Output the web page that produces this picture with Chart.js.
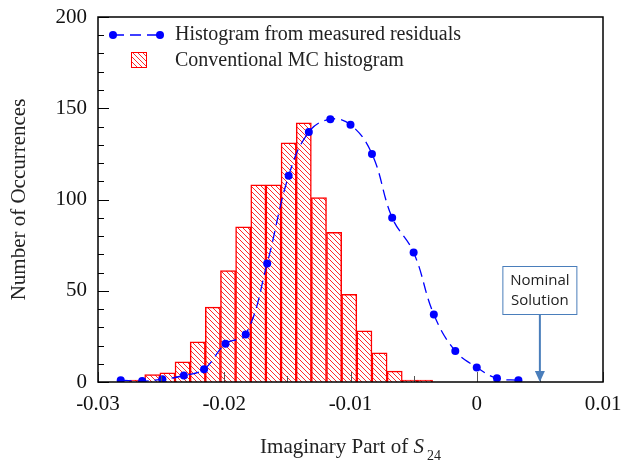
<!DOCTYPE html>
<html>
<head>
<meta charset="utf-8">
<script src="https://cdn.jsdelivr.net/npm/chart.js@4.4.0/dist/chart.umd.min.js"></script>
<style>
  html, body { margin: 0; padding: 0; background: #fff; }
  #wrap { width: 621px; height: 464px; position: relative; }
</style>
</head>
<body>
<div id="wrap"><canvas id="chart"></canvas></div>
<script>
// conventional MC histogram (bin centres, counts)
const mcBinCenters = [-0.0269, -0.0257, -0.0245, -0.0233, -0.0221, -0.0209, -0.0197, -0.0185, -0.0173, -0.0161,
                      -0.0149, -0.0137, -0.0125, -0.0113, -0.0101, -0.0089, -0.0077, -0.0065, -0.0053, -0.0041];
const mcCounts = [1, 4, 5, 11, 22, 41, 61, 85, 108, 108, 131, 142, 101, 82, 48, 28, 16, 6, 1, 1];

// histogram from measured residuals
const residualX = [-0.0282, -0.0265, -0.0249, -0.0232, -0.0216, -0.0199, -0.0183, -0.0166, -0.0149, -0.0133,
                   -0.0116, -0.0100, -0.0083, -0.0067, -0.0050, -0.0034, -0.0017, 0.0000, 0.0016, 0.0033];
const residualCounts = [1, 0.5, 1.5, 3.5, 7, 21, 26, 65, 113, 137, 144, 141, 125, 90, 71, 37, 17, 8, 2, 1];

const xTicks = [-0.03, -0.02, -0.01, 0, 0.01];
const yTicks = [0, 50, 100, 150, 200];
const nominalX = 0.005;

const labels = ["Histogram from measured residuals", "Conventional MC histogram"];

const SERIF = '"Liberation Serif", "DejaVu Serif", serif';
const BLUE = "#0000ff";
const RED = "#ff0000";
const ARROW = "#4a7ebb";

function hatch() {
  const s = 5;
  const c = document.createElement("canvas");
  c.width = s; c.height = s;
  const g = c.getContext("2d");
  g.fillStyle = "#fff";
  g.fillRect(0, 0, s, s);
  g.strokeStyle = "#ff2a2a";
  g.lineWidth = 1;
  g.beginPath();
  g.moveTo(-1, -1); g.lineTo(s + 1, s + 1);
  g.moveTo(-1, s - 1); g.lineTo(1, s + 1);
  g.moveTo(s - 1, -1); g.lineTo(s + 1, 1);
  g.stroke();
  return g.createPattern(c, "repeat");
}
const hatchFill = hatch();

const mcData = mcBinCenters.map((x, i) => ({ x: x, y: mcCounts[i] }));
const resData = residualX.map((x, i) => ({ x: x, y: residualCounts[i] }));

// keep label overflow from pushing the plot area around
function noPad(s) {
  s.paddingTop = 0; s.paddingBottom = 0; s.paddingLeft = 0; s.paddingRight = 0;
}

/* frame, inner ticks, legend, annotation, axis title */
const extras = {
  id: "extras",
  afterDatasetsDraw(chart) {
    const { ctx, chartArea: a, scales: { x, y } } = chart;
    ctx.save();

    // ticks inside the frame
    ctx.strokeStyle = "#555";
    ctx.lineWidth = 1;
    ctx.beginPath();
    for (let v = -0.03; v <= 0.0101; v += 0.005) {
      const px = Math.round(x.getPixelForValue(v)) + 0.5;
      const major = Math.abs(v * 100 - Math.round(v * 100)) < 1e-6;
      ctx.moveTo(px, a.bottom);
      ctx.lineTo(px, a.bottom - (major ? 10 : 6));
    }
    ctx.stroke();
    ctx.strokeStyle = "#000";
    ctx.beginPath();
    for (let v = 0; v <= 200; v += 10) {
      const py = Math.round(y.getPixelForValue(v)) + 0.5;
      ctx.moveTo(a.left, py);
      ctx.lineTo(a.left + (v % 50 === 0 ? 11 : 6), py);
    }
    ctx.stroke();

    // frame
    ctx.lineWidth = 1.5;
    ctx.strokeStyle = "#000";
    ctx.strokeRect(a.left, a.top, a.right - a.left, a.bottom - a.top);

    // legend
    const lx = a.left + 15, ly = a.top + 18;
    ctx.strokeStyle = BLUE;
    ctx.lineWidth = 1.3;
    ctx.setLineDash([11, 6]);
    ctx.beginPath();
    ctx.moveTo(lx, ly); ctx.lineTo(lx + 47, ly);
    ctx.stroke();
    ctx.setLineDash([]);
    ctx.fillStyle = BLUE;
    [lx, lx + 47].forEach(px => {
      ctx.beginPath(); ctx.arc(px, ly, 4, 0, Math.PI * 2); ctx.fill();
    });
    ctx.fillStyle = hatchFill;
    ctx.fillRect(lx + 18, ly + 17, 16, 16);
    ctx.strokeStyle = RED;
    ctx.lineWidth = 1;
    ctx.strokeRect(lx + 18.5, ly + 17.5, 15, 15);

    ctx.fillStyle = "#222";
    ctx.font = "20px " + SERIF;
    ctx.textBaseline = "middle";
    ctx.textAlign = "left";
    ctx.fillText(labels[0], lx + 62, ly);
    ctx.fillText(labels[1], lx + 62, ly + 26);

    // nominal solution annotation
    const nx = x.getPixelForValue(nominalX);
    const bw = 75, bh = 49, bTop = a.bottom - 116;
    ctx.strokeStyle = ARROW;
    ctx.lineWidth = 2;
    ctx.beginPath();
    ctx.moveTo(nx, bTop + bh); ctx.lineTo(nx, a.bottom - 8);
    ctx.stroke();
    ctx.fillStyle = ARROW;
    ctx.beginPath();
    ctx.moveTo(nx - 5, a.bottom - 11); ctx.lineTo(nx + 5, a.bottom - 11); ctx.lineTo(nx, a.bottom);
    ctx.closePath(); ctx.fill();
    ctx.fillStyle = "#fff";
    ctx.fillRect(nx - bw / 2, bTop, bw, bh);
    ctx.lineWidth = 1;
    ctx.strokeRect(nx - bw / 2 + 0.5, bTop + 0.5, bw - 1, bh - 1);
    ctx.fillStyle = "#222";
    ctx.font = '15px "Open Sans", "Noto Sans", sans-serif';
    ctx.textAlign = "center";
    ctx.fillText("Nominal", nx, bTop + 15);
    ctx.fillText("Solution", nx, bTop + 35);
    ctx.restore();

    // x axis title with italic S and subscript
    ctx.save();
    ctx.fillStyle = "#222";
    ctx.textBaseline = "alphabetic";
    ctx.textAlign = "left";
    const t1 = "Imaginary Part of ";
    ctx.font = "21px " + SERIF;
    const w1 = ctx.measureText(t1).width;
    ctx.font = "italic 21px " + SERIF;
    const w2 = ctx.measureText("S").width;
    ctx.font = "14px " + SERIF;
    const w3 = ctx.measureText("24").width;
    const cx = (a.left + a.right) / 2;
    const sx = cx - (w1 + w2 + w3 + 3) / 2;
    const base = 453;
    ctx.font = "21px " + SERIF;
    ctx.fillText(t1, sx, base);
    ctx.font = "italic 21px " + SERIF;
    ctx.fillText("S", sx + w1, base);
    ctx.font = "14px " + SERIF;
    ctx.fillText("24", sx + w1 + w2 + 3, base + 7);
    ctx.restore();
  }
};

new Chart(document.getElementById("chart"), {
  type: "bar",
  data: {
    datasets: [
      {
        type: "line",
        label: labels[0],
        data: resData,
        borderColor: BLUE,
        borderWidth: 1.3,
        borderDash: [11, 6],
        tension: 0.4,
        pointRadius: 4,
        pointBackgroundColor: BLUE,
        pointBorderColor: BLUE,
        pointBorderWidth: 0,
        fill: false,
        order: 0
      },
      {
        type: "bar",
        label: labels[1],
        data: mcData,
        backgroundColor: hatchFill,
        borderColor: RED,
        borderWidth: 1.5,
        barPercentage: 1,
        categoryPercentage: 1,
        order: 1
      }
    ]
  },
  options: {
    responsive: true,
    maintainAspectRatio: false,
    animation: false,
    layout: { padding: { left: 0, right: 18, top: 17, bottom: 0 } },
    plugins: { legend: { display: false }, tooltip: { enabled: false } },
    scales: {
      x: {
        type: "linear",
        min: -0.03,
        max: 0.01,
        offset: false,
        afterBuildTicks: s => { s.ticks = xTicks.map(v => ({ value: v })); },
        afterFit: s => { s.height = 82; noPad(s); },
        grid: { display: false, drawTicks: false },
        border: { display: false },
        ticks: {
          color: "#111",
          padding: 10,
          maxRotation: 0,
          autoSkip: false,
          font: { family: SERIF, size: 21 },
          callback: v => (Math.abs(v) < 1e-9 ? "0" : String(Math.round(v * 100) / 100))
        }
      },
      y: {
        min: 0,
        max: 200,
        afterBuildTicks: s => { s.ticks = yTicks.map(v => ({ value: v })); },
        afterFit: s => { s.width = 98; noPad(s); },
        grid: { display: false, drawTicks: false },
        border: { display: false },
        ticks: {
          color: "#111",
          padding: 11,
          font: { family: SERIF, size: 21 }
        },
        title: {
          display: true,
          text: "Number of Occurrences",
          color: "#222",
          padding: { top: 7, bottom: 0 },
          font: { family: SERIF, size: 21 }
        }
      }
    }
  },
  plugins: [extras]
});
</script>
</body>
</html>
